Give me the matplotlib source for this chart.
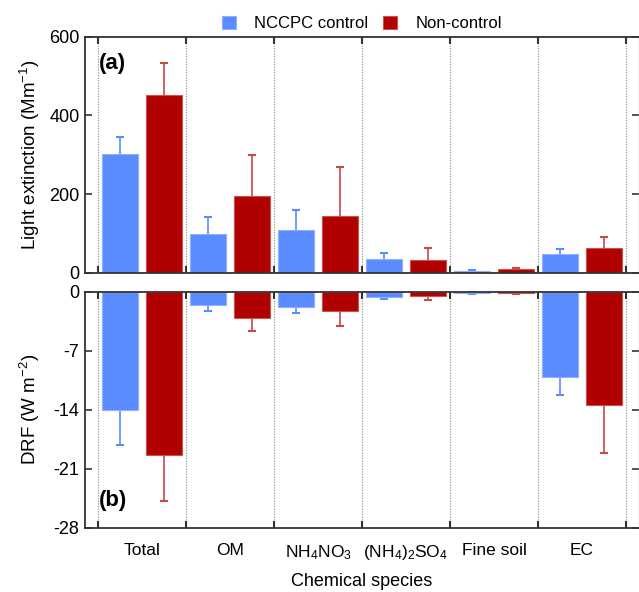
import matplotlib
matplotlib.use("Agg")
import matplotlib.pyplot as plt
import numpy as np

plt.rcParams['font.family'] = ['Liberation Sans', 'DejaVu Sans']
plt.rcParams['mathtext.fontset'] = 'custom'
plt.rcParams['mathtext.rm'] = 'Liberation Sans'
plt.rcParams['mathtext.it'] = 'Liberation Sans'
plt.rcParams['mathtext.default'] = 'regular'
plt.rcParams['axes.unicode_minus'] = False

categories = ["Total", "OM", "NH$_4$NO$_3$", "(NH$_4$)$_2$SO$_4$", "Fine soil", "EC"]
series = ["NCCPC control", "Non-control"]

ext_control = [301, 99, 109, 35, 3.5, 47.5]
ext_control_err = [45, 42, 50, 16, 4, 12]
ext_noncontrol = [452, 196, 145, 33, 8.5, 63.5]
ext_noncontrol_err = [80, 103, 124, 30, 4, 28]

drf_control = [-14.0, -1.6, -1.8, -0.6, -0.2, -10.1]
drf_control_err = [4.2, 0.7, 0.75, 0.3, 0.05, 2.2]
drf_noncontrol = [-19.4, -3.1, -2.3, -0.55, -0.2, -13.4]
drf_noncontrol_err = [5.4, 1.6, 1.8, 0.43, 0.1, 5.7]

ext_ticks = [0, 200, 400, 600]
drf_ticks = [0, -7, -14, -21, -28]

blue = "#5b8cff"
red = "#b00000"
blue_err = "#5b8cff"
red_err = "#c54a4a"

fig = plt.figure(figsize=(6.39, 5.92), dpi=100)
L, W = 85/639, (639-85)/639
ax1 = fig.add_axes([L, 1-272.7/592, W, 236/592])
ax2 = fig.add_axes([L, 1-527.7/592, W, 236/592])

x = np.arange(len(categories))
bw = 0.4
off = 0.25
seps = np.arange(-0.5, len(categories), 1.0)

def style(ax):
    ax.set_xlim(-0.648, len(categories) - 1 + 0.648)
    for s in seps:
        ax.axvline(s, color="#999999", lw=0.8, ls=(0, (1.2, 1.2)), zorder=0)
    for sp in ["left", "top", "bottom"]:
        ax.spines[sp].set_color("#333333")
        ax.spines[sp].set_linewidth(1.3)
    ax.spines["right"].set_color("#bbbbbb")
    ax.spines["right"].set_linewidth(1.0)
    ax.set_xticks(seps, minor=True)
    ax.set_xticks(x)
    ax.tick_params(axis="x", which="major", length=0, labelsize=12.5, pad=11)
    ax.tick_params(axis="x", which="minor", direction="in", length=5, width=1.5,
                   top=True, bottom=True, color="#333333")
    ax.tick_params(axis="y", which="major", direction="in", length=5, width=1.2,
                   left=True, right=True, labelsize=13, color="#333333", pad=4)

def one_sided(ax, xs, ys, errs, color, up):
    zeros = np.zeros(len(xs))
    yerr = [zeros, errs] if up else [errs, zeros]
    _, caps, _ = ax.errorbar(xs, ys, yerr=yerr, fmt="none", ecolor=color,
                             elinewidth=1.2, capsize=2.6, capthick=1.5, zorder=1)
    if len(caps) == 2:
        caps[0 if up else 1].set_visible(False)

# top panel
ax1.bar(x - off, ext_control, bw, color=blue, edgecolor="#8fb0ff", lw=0.8, zorder=2,
        label=series[0])
ax1.bar(x + off, ext_noncontrol, bw, color=red, edgecolor="#d05050", lw=0.8, zorder=2,
        label=series[1])
one_sided(ax1, x - off, ext_control, ext_control_err, blue_err, True)
one_sided(ax1, x + off, ext_noncontrol, ext_noncontrol_err, red_err, True)
ax1.set_ylim(0, 600)
ax1.set_yticks(ext_ticks)
style(ax1)
ax1.set_xticklabels([])
ax1.set_ylabel("Light extinction (Mm$^{-1}$)", fontsize=13.5)
ax1.text(0.025, 0.93, "(a)", transform=ax1.transAxes, fontsize=16, fontweight="bold",
         va="top", ha="left")
ax1.legend(loc="lower center", bbox_to_anchor=(0.5, 0.995), ncol=2, frameon=False,
           fontsize=12, handlelength=0.85, handleheight=0.75, columnspacing=0.9,
           handletextpad=1.1, borderaxespad=0.0)

# bottom panel
ax2.bar(x - off, drf_control, bw, color=blue, edgecolor="#8fb0ff", lw=0.8, zorder=2)
ax2.bar(x + off, drf_noncontrol, bw, color=red, edgecolor="#d05050", lw=0.8, zorder=2)
one_sided(ax2, x - off, drf_control, drf_control_err, blue_err, False)
one_sided(ax2, x + off, drf_noncontrol, drf_noncontrol_err, red_err, False)
ax2.set_ylim(-28, 0)
ax2.set_yticks(drf_ticks)
style(ax2)
ax2.set_xticklabels(categories)
ax2.set_ylabel("DRF (W m$^{-2}$)", fontsize=13.5)
ax2.set_xlabel("Chemical species", fontsize=13, labelpad=8)
ax2.text(0.025, 0.07, "(b)", transform=ax2.transAxes, fontsize=16, fontweight="bold",
         va="bottom", ha="left")

ax1.yaxis.set_label_coords(-0.078, 0.5)
ax2.yaxis.set_label_coords(-0.078, 0.5)

fig.savefig("out.png", dpi=100)
